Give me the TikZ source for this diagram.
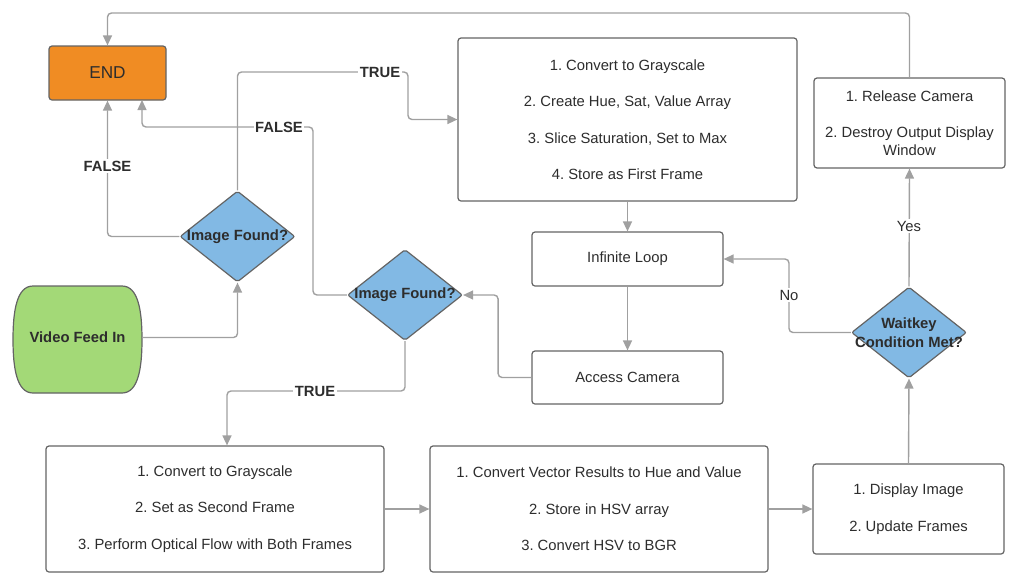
\documentclass[tikz,border=0pt]{standalone}
\usepackage{fontspec}
\setmainfont{Liberation Sans}
\usetikzlibrary{shapes.geometric,arrows.meta,calc}
\frenchspacing

\definecolor{orangec}{RGB}{240,140,35}
\definecolor{bluec}{RGB}{130,185,228}
\definecolor{greenc}{RGB}{163,217,119}
\definecolor{linec}{RGB}{160,160,160}
\definecolor{borderc}{RGB}{100,100,100}
\definecolor{textc}{RGB}{45,45,45}

\tikzset{
  box/.style={draw=borderc, line width=1.2pt, rounded corners=3pt, fill=white,
    font=\fontsize{14.8}{18}\selectfont, text=textc, align=center, inner sep=0pt},
  dia/.style={diamond, draw=borderc, fill=bluec, line width=1.2pt,
    minimum width=115pt, minimum height=91pt, inner sep=0pt, align=center,
    font=\bfseries\fontsize{14.8}{19}\selectfont, text=textc, rounded corners=2pt},
  conn/.style={draw=linec, line width=1.4pt, rounded corners=4pt,
    -{Triangle[length=10pt,width=9pt]}},
  lbl/.style={fill=white, inner sep=1.5pt, text=textc,
    font=\bfseries\fontsize{14.8}{18}\selectfont},
  lblplain/.style={fill=white, inner sep=1.5pt, text=textc,
    font=\fontsize{14.8}{18}\selectfont},
}
\newcommand{\gap}{\\[18.5pt]}

\begin{document}
\begin{tikzpicture}[x=1pt, y=-1pt]
\useasboundingbox (0,0) rectangle (1012,574);

% Terminal and process boxes
\node[box, fill=orangec, minimum width=117pt, minimum height=54pt,
      font=\fontsize{17.2}{20}\selectfont] (endbox) at (107.5,73) {END};
\node[box, minimum width=339pt, minimum height=163pt] (box1) at (627.5,119.5)
  {1. Convert to Grayscale\gap 2. Create Hue, Sat, Value Array\gap
   3. Slice Saturation, Set to Max\gap 4. Store as First Frame};
\node[box, minimum width=191pt, minimum height=90pt] (release) at (909.5,123)
  {\raisebox{0pt}[\height][\depth]{1. Release Camera}\gap 2. Destroy Output Display\\Window};
\node[box, minimum width=191pt, minimum height=54pt] (loop) at (627.5,259) {Infinite Loop};
\node[box, minimum width=191pt, minimum height=53pt] (access) at (627.5,377.5) {Access Camera};
\node[box, minimum width=338pt, minimum height=126pt] (boxA) at (215,509)
  {1. Convert to Grayscale\gap 2. Set as Second Frame\gap
   3. Perform Optical Flow with Both Frames};
\node[box, minimum width=338pt, minimum height=126pt] (boxB) at (599,509)
  {1. Convert Vector Results to Hue and Value\gap 2. Store in HSV array\gap
   3. Convert HSV to BGR};
\node[box, minimum width=191pt, minimum height=90pt] (boxC) at (908.5,509)
  {1. Display Image\gap 2. Update Frames};

% Decisions
\node[dia] (d1) at (237.5,236.5) {\makebox[0pt]{Image Found?}};
\node[dia] (d2) at (405,295) {\makebox[0pt]{Image Found?}};
\node[dia] (wait) at (909,332.5) {\makebox[0pt]{Waitkey}\\\makebox[0pt]{Condition Met?}};

% Input terminal with bulging sides
\draw[draw=borderc, fill=greenc, line width=1.2pt]
  (33,286) -- (122,286) .. controls (138,286) and (142,310) .. (142,339.5)
  .. controls (142,369) and (138,393) .. (122,393) -- (33,393)
  .. controls (17,393) and (13,369) .. (13,339.5)
  .. controls (13,310) and (17,286) .. (33,286) -- cycle;
\node[font=\bfseries\fontsize{14.8}{18}\selectfont, text=textc,
      minimum width=129pt, minimum height=107pt, inner sep=0pt] (video) at (77.5,337.5) {Video Feed In};

% Bend points
\coordinate (topy) at (0,13);
\coordinate (t1) at (408,72);
\coordinate (f2) at (313,127);
\coordinate (endin2) at (142,100);
\coordinate (a1) at ($(d2.east)+(35,0)$);
\coordinate (n1) at (789,300);
\coordinate (t2) at (300,391);
\coordinate (boxAin) at ($(boxA.north)+(12,0)$);

% Connectors
\draw[conn] (release.north) -- (release.north |- topy) -| (endbox.north);
\draw[conn] (d1.west) -| (endbox.south);
\draw[conn] (d1.north) |- (t1) |- (box1.west);
\draw[conn] (d2.west) -| (f2) -| (endin2);
\draw[conn] (video.east) -| (d1.south);
\draw[conn] (access.west) -| (a1) -- (d2.east);
\draw[conn] (box1.south) -- (loop.north);
\draw[conn] (loop.south) -- (access.north);
\draw[conn] (wait.west) -| (n1) |- (loop.east);
\draw[conn] (wait.north) -- (release.south);
\draw[conn] (boxC.north) -- (wait.south);
\draw[conn] (d2.south) |- (t2) -| (boxAin);
\draw[conn] (boxA.east) -- (boxB.west);
\draw[conn] (boxB.east) -- (boxC.west);

% Connector labels
\node[lbl] (lf1) at (107.5,166) {FALSE};
\node[lbl] (lt1) at (380,72) {TRUE};
\node[lbl] (lf2) at (279,127) {FALSE};
\node[lbl] (lt2) at (315,391) {TRUE};
\node[lblplain] (lno) at (789,295) {No};
\node[lblplain] (lyes) at (909,226) {Yes};
\end{tikzpicture}
\end{document}
